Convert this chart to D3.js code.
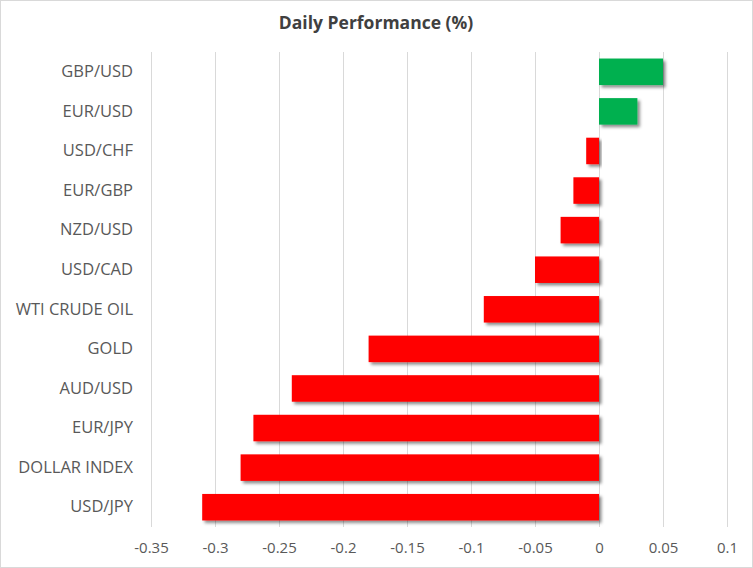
<!DOCTYPE html>
<html>
<head>
<meta charset="utf-8">
<script src="https://cdn.jsdelivr.net/npm/d3@7"></script>
<style>
  body { margin: 0; background: #fff; }
  .graph svg { display: block; }
  text { font-family: "Open Sans", "Liberation Sans", sans-serif; fill: #595959; }
</style>
</head>
<body>
<div class="graph"></div>
<script>
const categories = ["GBP/USD", "EUR/USD", "USD/CHF", "EUR/GBP", "NZD/USD", "USD/CAD",
  "WTI CRUDE OIL", "GOLD", "AUD/USD", "EUR/JPY", "DOLLAR INDEX", "USD/JPY"];
const values = [0.05, 0.03, -0.01, -0.02, -0.03, -0.05, -0.09, -0.18, -0.24, -0.27, -0.28, -0.31];
const ticks = [-0.35, -0.3, -0.25, -0.2, -0.15, -0.1, -0.05, 0, 0.05, 0.1];

const width = 753;
const height = 568;
const margin = { top: 52, right: 26, bottom: 41, left: 151 };

const canvas = d3.select(".graph")
  .append("svg")
  .attr("width", width)
  .attr("height", height);

// drop shadow like excel
const defs = canvas.append("defs");
defs.append("filter")
  .attr("id", "shadow")
  .attr("x", "-10%").attr("y", "-30%")
  .attr("width", "130%").attr("height", "180%")
  .append("feDropShadow")
  .attr("dx", 2.5).attr("dy", 2.5)
  .attr("stdDeviation", 1.6)
  .attr("flood-color", "#000")
  .attr("flood-opacity", 0.45);

canvas.append("rect")
  .attr("x", 0.5).attr("y", 0.5)
  .attr("width", width - 1).attr("height", height - 1)
  .attr("fill", "#fff")
  .attr("stroke", "#d9d9d9");

canvas.append("text")
  .attr("x", 376)
  .attr("y", 29)
  .attr("text-anchor", "middle")
  .style("font-size", "17.5px")
  .style("font-weight", "bold")
  .style("fill", "#404040")
  .text("Daily Performance  (%)");

const x = d3.scaleLinear()
  .domain([-0.35, 0.1])
  .range([margin.left, width - margin.right]);

const y = d3.scaleBand()
  .domain(categories)
  .range([margin.top, height - margin.bottom])
  .paddingInner(0.33)
  .paddingOuter(0.165);

// gridlines
canvas.append("g")
  .selectAll("line")
  .data(ticks)
  .enter().append("line")
  .attr("x1", d => x(d) + 0.5)
  .attr("x2", d => x(d) + 0.5)
  .attr("y1", margin.top)
  .attr("y2", height - margin.bottom)
  .attr("stroke", "#d9d9d9")
  .attr("stroke-width", 1);

// x tick labels, plain hyphen for minus
const xAxis = d3.axisBottom(x)
  .tickValues(ticks)
  .tickSize(0)
  .tickPadding(15)
  .tickFormat(d => String(+d.toFixed(2)));

canvas.append("g")
  .attr("id", "x-axis")
  .attr("transform", `translate(0, ${height - margin.bottom})`)
  .call(xAxis)
  .call(g => g.select(".domain").remove())
  .selectAll("text")
  .style("font-size", "15px")
  .style("fill", "#595959");

// category labels
const yAxis = d3.axisLeft(y)
  .tickSize(0)
  .tickPadding(18);

canvas.append("g")
  .attr("id", "y-axis")
  .attr("transform", `translate(${margin.left}, 0)`)
  .call(yAxis)
  .call(g => g.select(".domain").remove())
  .selectAll("text")
  .style("font-size", "16.5px")
  .style("fill", "#595959");

canvas.append("g")
  .selectAll("rect")
  .data(values)
  .enter().append("rect")
  .attr("class", "bar")
  .attr("x", d => x(Math.min(0, d)))
  .attr("y", (d, i) => y(categories[i]))
  .attr("width", d => Math.abs(x(d) - x(0)))
  .attr("height", y.bandwidth())
  .attr("fill", d => d >= 0 ? "#00b050" : "#ff0000")
  .attr("filter", "url(#shadow)");
</script>
</body>
</html>
